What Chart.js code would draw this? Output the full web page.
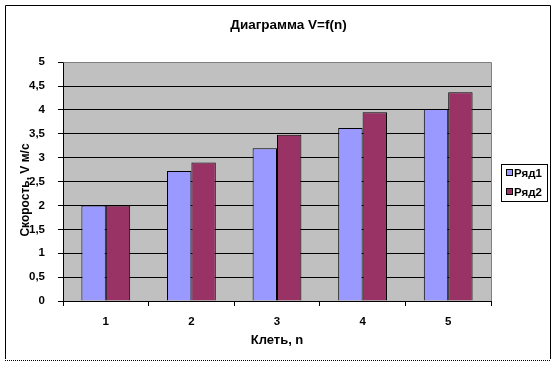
<!DOCTYPE html>
<html>
<head>
<meta charset="utf-8">
<script src="https://cdn.jsdelivr.net/npm/chart.js@4.4.1/dist/chart.umd.min.js"></script>
<style>
  html, body { margin: 0; padding: 0; background: #fff; }
</style>
</head>
<body>
<canvas id="chart" width="556" height="365"></canvas>
<script>
// данные диаграммы
const chartTitle = 'Диаграмма V=f(n)';
const xTitle = 'Клеть, n';
const yTitle = 'Скорость, V м/с';
const categories = ['1', '2', '3', '4', '5'];
const seriesNames = ['Ряд1', 'Ряд2'];
const row1 = [2, 2.72, 3.2, 3.62, 4.02];
const row2 = [2, 2.9, 3.48, 3.95, 4.37];
const yTickLabels = ['0', '0,5', '1', '1,5', '2', '2,5', '3', '3,5', '4', '4,5', '5'];

const fontFamily = '"Liberation Sans", Arial, sans-serif';
Chart.defaults.font.family = fontFamily;
Chart.defaults.font.weight = 'bold';
Chart.defaults.color = '#000';

// серый фон области построения + рамка
const plotBg = {
  id: 'plotBg',
  beforeDraw(chart) {
    const {ctx, chartArea: a} = chart;
    ctx.save();
    ctx.fillStyle = '#c0c0c0';
    ctx.fillRect(a.left, a.top, a.right - a.left, a.bottom - a.top);
    ctx.restore();
  },
  afterDraw(chart) {
    const {ctx, chartArea: a} = chart;
    ctx.save();
    ctx.strokeStyle = '#808080';
    ctx.lineWidth = 1;
    ctx.beginPath();
    ctx.moveTo(Math.round(a.left) + 0.5, Math.round(a.top) + 0.5);
    ctx.lineTo(Math.round(a.right) + 0.5, Math.round(a.top) + 0.5);
    ctx.lineTo(Math.round(a.right) + 0.5, Math.round(a.bottom));
    ctx.stroke();

    // внешняя рамка
    ctx.strokeStyle = '#000';
    ctx.beginPath();
    ctx.moveTo(5.5, 359);
    ctx.lineTo(5.5, 5.5);
    ctx.lineTo(550.5, 5.5);
    ctx.lineTo(550.5, 359);
    ctx.stroke();
    ctx.setLineDash([1, 1]);
    ctx.beginPath();
    ctx.moveTo(5, 360.5);
    ctx.lineTo(551, 360.5);
    ctx.stroke();
    ctx.restore();

    // подпись оси Y
    ctx.save();
    ctx.translate(26, 190);
    ctx.rotate(-Math.PI / 2);
    ctx.font = 'bold 12px ' + fontFamily;
    ctx.fillStyle = '#000';
    ctx.textAlign = 'center';
    ctx.textBaseline = 'middle';
    ctx.fillText(yTitle, 0, 0);
    ctx.restore();
  }
};

// легенда справа в рамке
const boxLegend = {
  id: 'boxLegend',
  afterDraw(chart) {
    const ctx = chart.ctx;
    ctx.save();
    ctx.lineWidth = 1;
    ctx.strokeStyle = '#000';
    ctx.fillStyle = '#fff';
    ctx.fillRect(501.5, 164.5, 46, 37);
    ctx.strokeRect(501.5, 164.5, 46, 37);
    ctx.font = 'bold 11.5px ' + fontFamily;
    ctx.textBaseline = 'middle';
    chart.data.datasets.forEach((ds, i) => {
      const y = 173 + i * 19;
      ctx.fillStyle = ds.backgroundColor;
      ctx.fillRect(506.5, y - 3.5, 6, 6);
      ctx.strokeRect(506.5, y - 3.5, 6, 6);
      ctx.fillStyle = '#000';
      ctx.fillText(ds.label, 514, y + 0.5);
    });
    ctx.restore();
  }
};

const data = {
  labels: categories,
  datasets: [
    {
      label: seriesNames[0],
      data: row1,
      backgroundColor: '#9999ff',
      borderColor: '#000',
      borderWidth: 1
    },
    {
      label: seriesNames[1],
      data: row2,
      backgroundColor: '#993366',
      borderColor: '#000',
      borderWidth: 1
    }
  ]
};

const config = {
  type: 'bar',
  data: data,
  plugins: [plotBg, boxLegend],
  options: {
    responsive: false,
    animation: false,
    layout: { padding: { left: 21, right: 0, top: 0, bottom: 0 } },
    datasets: {
      bar: { categoryPercentage: 0.57, barPercentage: 1.0 }
    },
    plugins: {
      legend: { display: false },
      tooltip: { enabled: false },
      title: {
        display: true,
        text: chartTitle,
        font: { size: 13.5, weight: 'bold' },
        color: '#000',
        padding: { top: 17, bottom: 29 }
      }
    },
    scales: {
      x: {
        grid: {
          offset: true,
          drawOnChartArea: false,
          drawTicks: true,
          tickLength: 5,
          color: '#000'
        },
        border: { display: true, color: '#000', width: 1 },
        ticks: { font: { size: 11.5, weight: 'bold' }, padding: 9, color: '#000' },
        title: {
          display: true,
          text: xTitle,
          font: { size: 13, weight: 'bold' },
          color: '#000',
          padding: { top: 0, bottom: 17 }
        },
        afterFit(scale) { scale.height = 64; }
      },
      y: {
        min: 0,
        max: 5,
        grid: {
          color: (c) => (c.tick && c.tick.value === 5 ? '#808080' : '#000'),
          tickColor: '#000',
          tickLength: 5,
          drawTicks: true
        },
        border: { display: true, color: '#000', width: 1 },
        ticks: {
          stepSize: 0.5,
          padding: 13,
          font: { size: 11.5, weight: 'bold' },
          color: '#000',
          callback: (v, i) => yTickLabels[i]
        },
        afterFit(scale) { scale.width = 42; }
      },
      y2: {
        type: 'linear',
        position: 'right',
        min: 0,
        max: 5,
        grid: { display: false },
        border: { display: false },
        ticks: { display: false },
        afterFit(scale) { scale.width = 65; }
      }
    }
  }
};

new Chart(document.querySelector('#chart'), config);
</script>
</body>
</html>
